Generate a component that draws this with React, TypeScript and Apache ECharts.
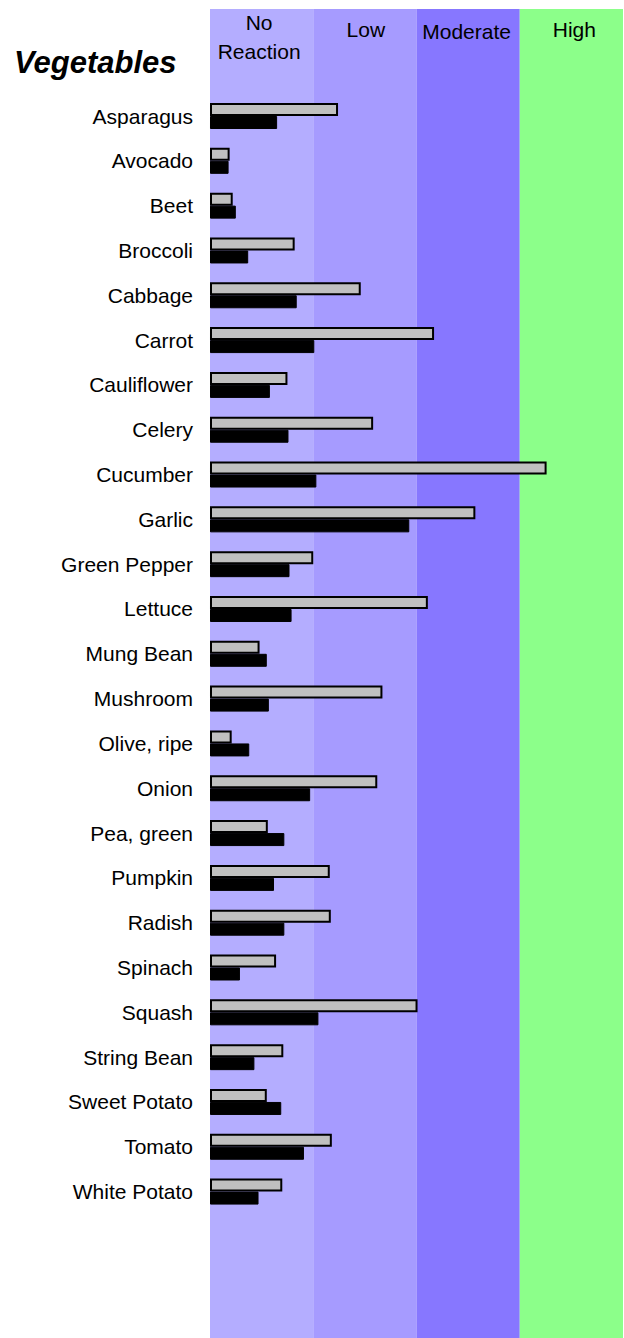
import React, { useEffect, useRef } from 'react';
import * as echarts from 'echarts';

const categories = [
  'Asparagus', 'Avocado', 'Beet', 'Broccoli', 'Cabbage', 'Carrot', 'Cauliflower',
  'Celery', 'Cucumber', 'Garlic', 'Green Pepper', 'Lettuce', 'Mung Bean', 'Mushroom',
  'Olive, ripe', 'Onion', 'Pea, green', 'Pumpkin', 'Radish', 'Spinach', 'Squash',
  'String Bean', 'Sweet Potato', 'Tomato', 'White Potato',
];

const grayValues = [
  1.24, 0.19, 0.22, 0.82, 1.46, 2.17, 0.75, 1.58, 3.26, 2.57, 1.0, 2.11, 0.48,
  1.67, 0.21, 1.62, 0.56, 1.16, 1.17, 0.64, 2.01, 0.71, 0.55, 1.18, 0.7,
];

const blackValues = [
  0.65, 0.18, 0.25, 0.37, 0.84, 1.01, 0.58, 0.76, 1.03, 1.93, 0.77, 0.79, 0.55,
  0.57, 0.38, 0.97, 0.72, 0.62, 0.72, 0.29, 1.05, 0.43, 0.69, 0.91, 0.47,
];

const bandLabels = ['No\nReaction', 'Low', 'Moderate', 'High'];
const bandColors = ['#B4ADFF', '#A69BFF', '#8777FF', '#8CFF8A'];

const FONT = '"Liberation Sans", Arial, Helvetica, sans-serif';

export default function App() {
  const ref = useRef<HTMLDivElement>(null);

  useEffect(() => {
    const chart = echarts.init(ref.current as HTMLDivElement, undefined, { renderer: 'svg' });
    const labelOffsets = [
      [-2.5, -1],
      [1, 5.5],
      [-1.5, 7.5],
      [3, 5.5],
    ];
    const option = {
      animation: false,
      title: {
        text: 'Vegetables',
        left: 14,
        top: 46.5,
        padding: 0,
        textStyle: {
          fontFamily: FONT,
          fontSize: 31,
          fontWeight: 'bold',
          fontStyle: 'italic',
          color: '#000',
          lineHeight: 31,
        },
      },
      grid: [
        { left: 210, right: 1, top: 9, bottom: 0, containLabel: false },
        { left: 210, right: 1, top: 93.6, bottom: 124, containLabel: false },
      ],
      xAxis: [
        { type: 'value', gridIndex: 0, min: 0, max: 4, show: false },
        { type: 'value', gridIndex: 1, min: 0, max: 4, show: false },
      ],
      yAxis: [
        { type: 'value', gridIndex: 0, min: 0, max: 1, show: false },
        {
          type: 'category',
          gridIndex: 1,
          data: categories,
          inverse: true,
          axisLine: { show: false },
          axisTick: { show: false },
          splitLine: { show: false },
          axisLabel: {
            color: '#000',
            fontSize: 21,
            fontFamily: FONT,
            margin: 17,
          },
        },
      ],
      series: [
        {
          type: 'scatter',
          xAxisIndex: 0,
          yAxisIndex: 0,
          data: [[0, 0]],
          symbolSize: 0,
          silent: true,
          z: 1,
          markArea: {
            silent: true,
            data: bandLabels.map((name, i) => [
              {
                name,
                xAxis: i,
                itemStyle: { color: bandColors[i], opacity: 1 },
                label: {
                  show: true,
                  position: 'insideTop',
                  distance: 0,
                  offset: labelOffsets[i],
                  color: '#000',
                  fontSize: 21,
                  lineHeight: 29,
                  fontFamily: FONT,
                  align: 'center',
                },
              },
              { xAxis: i + 1 },
            ]),
          },
        },
        {
          type: 'bar',
          xAxisIndex: 1,
          yAxisIndex: 1,
          data: grayValues,
          barWidth: 13,
          barGap: '0%',
          z: 3,
          itemStyle: { color: '#C0C0C0', borderColor: '#000', borderWidth: 2 },
          silent: true,
        },
        {
          type: 'bar',
          xAxisIndex: 1,
          yAxisIndex: 1,
          data: blackValues,
          barWidth: 13,
          barGap: '0%',
          z: 3,
          itemStyle: { color: '#000', borderColor: '#000', borderWidth: 1 },
          silent: true,
        },
      ],
    };
    chart.setOption(option as any);
    return () => {
      chart.dispose();
    };
  }, []);

  return (
    <div
      ref={ref}
      style={{ position: 'fixed', left: 0, top: 0, width: 624, height: 1338, background: '#fff' }}
    />
  );
}
